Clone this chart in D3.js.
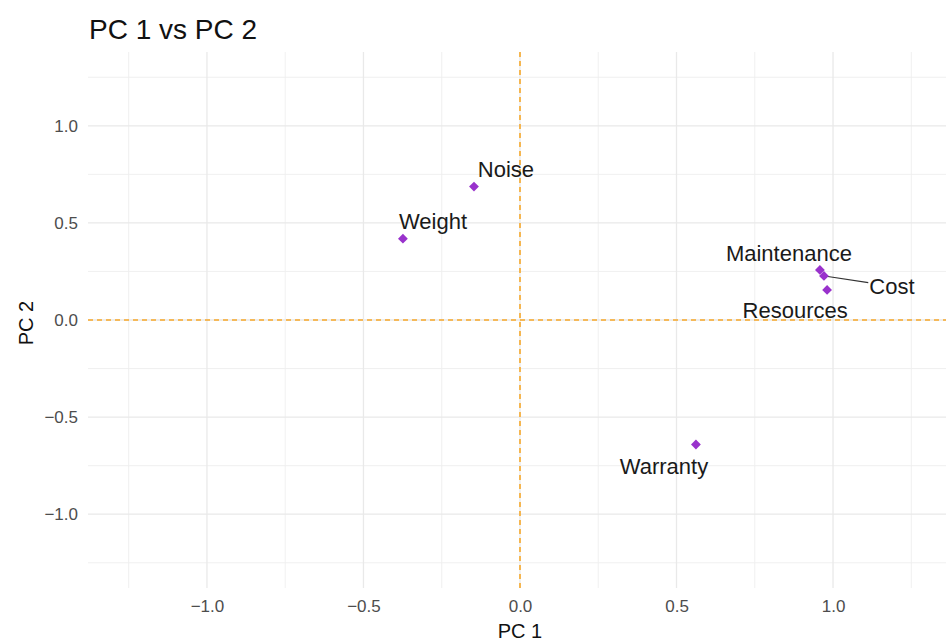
<!DOCTYPE html>
<html lang="en">
<head>
<meta charset="UTF-8">
<title>PC 1 vs PC 2</title>
<script src="https://cdn.jsdelivr.net/npm/d3@7"></script>
<style>
    body { margin: 0; background: #fff; }
    text { font-family: "Liberation Sans", Arial, sans-serif; }
</style>
</head>
<body>
<script>
    // variable loadings
    const variables = ['Noise', 'Weight', 'Maintenance', 'Cost', 'Resources', 'Warranty'];
    const pc1 = [-0.147, -0.374, 0.958, 0.971, 0.981, 0.562];
    const pc2 = [0.687, 0.419, 0.258, 0.227, 0.155, -0.641];
    // repelled label positions (data units)
    const labelPc1 = [-0.045, -0.278, 0.859, 1.188, 0.879, 0.460];
    const labelPc2 = [0.778, 0.509, 0.346, 0.176, 0.049, -0.752];

    const majorTicks = [-1.0, -0.5, 0.0, 0.5, 1.0];
    const minorTicks = [-1.25, -0.75, -0.25, 0.25, 0.75, 1.25];

    const width = 946, height = 644;

    const svg = d3.select('body').append('svg')
        .attr('width', width)
        .attr('height', height);

    const x = d3.scaleLinear().domain([-1.38, 1.38]).range([88, 952]);
    const y = d3.scaleLinear().domain([-1.38, 1.38]).range([588, 52]);

    // grid
    const grid = svg.append('g');
    grid.selectAll('line.vminor').data(minorTicks).enter().append('line')
        .attr('x1', d => x(d)).attr('x2', d => x(d))
        .attr('y1', y.range()[1]).attr('y2', y.range()[0])
        .attr('stroke', '#eeeeee').attr('stroke-width', 0.9);
    grid.selectAll('line.hminor').data(minorTicks).enter().append('line')
        .attr('y1', d => y(d)).attr('y2', d => y(d))
        .attr('x1', x.range()[0]).attr('x2', x.range()[1])
        .attr('stroke', '#eeeeee').attr('stroke-width', 0.9);
    grid.selectAll('line.vmajor').data(majorTicks).enter().append('line')
        .attr('x1', d => x(d)).attr('x2', d => x(d))
        .attr('y1', y.range()[1]).attr('y2', y.range()[0])
        .attr('stroke', '#e9e9e9').attr('stroke-width', 1.3);
    grid.selectAll('line.hmajor').data(majorTicks).enter().append('line')
        .attr('y1', d => y(d)).attr('y2', d => y(d))
        .attr('x1', x.range()[0]).attr('x2', x.range()[1])
        .attr('stroke', '#e9e9e9').attr('stroke-width', 1.3);

    // axes (labels only)
    const xAxis = svg.append('g')
        .attr('transform', `translate(0,${y.range()[0] + 8})`)
        .call(d3.axisBottom(x).tickValues(majorTicks).tickSize(0).tickPadding(0).tickFormat(d3.format('.1f')));
    const yAxis = svg.append('g')
        .attr('transform', `translate(${x.range()[0] - 10},0)`)
        .call(d3.axisLeft(y).tickValues(majorTicks).tickSize(0).tickPadding(0).tickFormat(d3.format('.1f')));
    [xAxis, yAxis].forEach(g => {
        g.select('.domain').remove();
        g.selectAll('text')
            .style('font-family', '"Liberation Sans", Arial, sans-serif')
            .style('font-size', '17px')
            .attr('fill', '#4d4d4d');
    });
    xAxis.selectAll('text').attr('dy', '0.95em');
    // ggplot uses a real minus sign
    svg.selectAll('.tick text').text(function () { return this.textContent.replace('-', '\u2212'); });

    // reference lines
    svg.append('line')
        .attr('x1', x(0)).attr('x2', x(0))
        .attr('y1', y.range()[1]).attr('y2', y.range()[0])
        .attr('stroke', '#f7a82a').attr('stroke-width', 1.6)
        .attr('stroke-dasharray', '5,4');
    svg.append('line')
        .attr('x1', x.range()[0]).attr('x2', x.range()[1])
        .attr('y1', y(0)).attr('y2', y(0))
        .attr('stroke', '#f7a82a').attr('stroke-width', 1.6)
        .attr('stroke-dasharray', '5,4');

    const rows = variables.map((v, i) => ({
        name: v, px: pc1[i], py: pc2[i], lx: labelPc1[i], ly: labelPc2[i]
    }));

    // labels first so their boxes can be used for segments
    const segG = svg.append('g');
    const labels = svg.append('g').selectAll('text').data(rows).enter().append('text')
        .attr('x', d => x(d.lx))
        .attr('y', d => y(d.ly))
        .attr('dy', '0.36em')
        .attr('text-anchor', 'middle')
        .style('font-size', '22px')
        .attr('fill', '#1a1a1a')
        .text(d => d.name);

    // leader segments (ggrepel style): only when the label sits far from its point
    labels.each(function (d) {
        const b = this.getBBox();
        const x0 = x(d.px), y0 = y(d.py);
        const cx = b.x + b.width / 2, cy = b.y + b.height / 2;
        const dx = cx - x0, dy = cy - y0;
        const hw = b.width / 2 + 1, hh = b.height / 2 - 3;
        const t = Math.min(Math.abs(dx) > 0 ? hw / Math.abs(dx) : Infinity,
                           Math.abs(dy) > 0 ? hh / Math.abs(dy) : Infinity);
        const ex = cx - dx * t, ey = cy - dy * t;
        const len = Math.hypot(ex - x0, ey - y0);
        if (t < 1 && len > 25) {
            segG.append('line')
                .attr('x1', x0 + (ex - x0) * 0.05).attr('y1', y0 + (ey - y0) * 0.05)
                .attr('x2', ex).attr('y2', ey)
                .attr('stroke', '#333').attr('stroke-width', 1.1);
        }
    });

    // points (filled diamonds)
    svg.append('g').selectAll('path').data(rows).enter().append('path')
        .attr('d', d3.symbol().type(d3.symbolSquare).size(48))
        .attr('transform', d => `translate(${x(d.px)},${y(d.py)}) rotate(45)`)
        .attr('fill', '#9932cc');

    // titles
    svg.append('text')
        .attr('x', 89).attr('y', 39)
        .style('font-size', '28px')
        .attr('fill', '#111')
        .text('PC 1 vs PC 2');
    svg.append('text')
        .attr('x', x(0)).attr('y', 638)
        .attr('text-anchor', 'middle')
        .style('font-size', '20px')
        .attr('fill', '#111')
        .text('PC 1');
    svg.append('text')
        .attr('transform', `translate(33,${y(0) + 3}) rotate(-90)`)
        .attr('text-anchor', 'middle')
        .style('font-size', '20px')
        .attr('fill', '#111')
        .text('PC 2');
</script>
</body>
</html>
